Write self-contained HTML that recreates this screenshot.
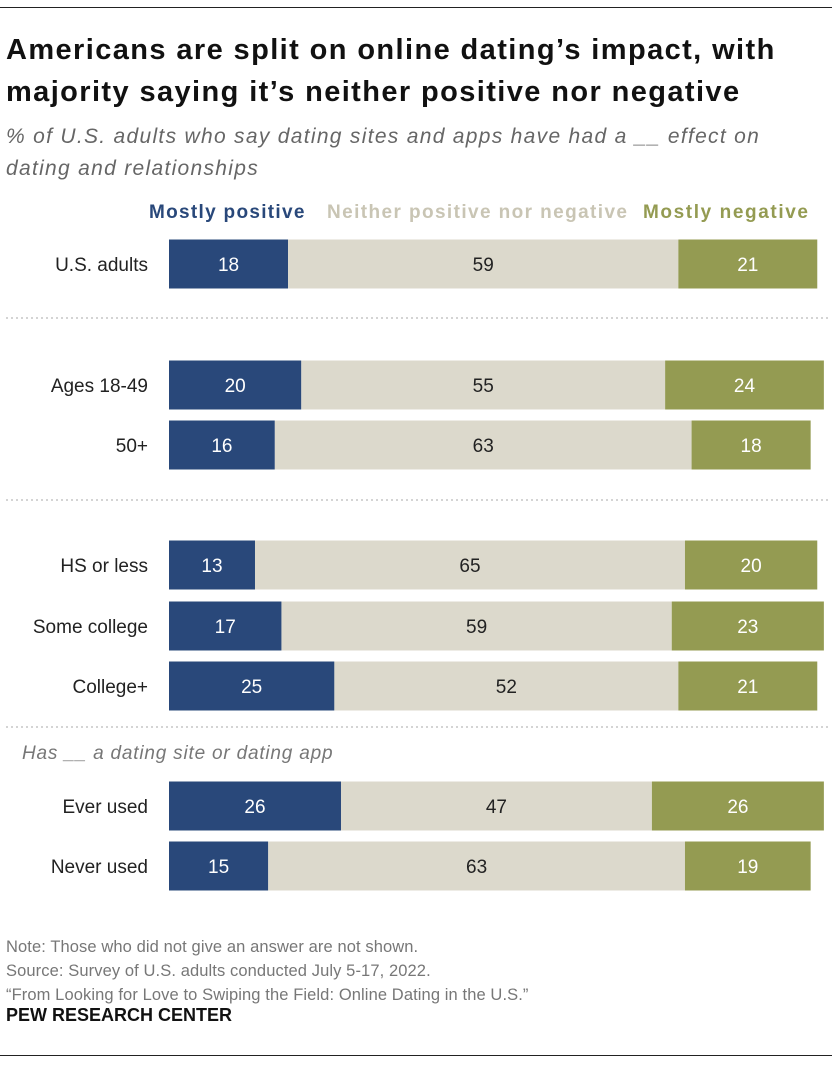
<!DOCTYPE html>
<html><head><meta charset="utf-8"><style>
body{margin:0;background:#fff;font-family:"Liberation Sans",sans-serif;}
#c{position:relative;width:840px;height:1066px;overflow:hidden;}
.t{position:absolute;white-space:nowrap;}
</style></head><body><div id="c">
<div class="t" style="left:0;top:7px;width:832px;height:1px;background:#222"></div>
<div class="t" style="left:6px;top:29px;font-size:29px;letter-spacing:1.4px;font-weight:bold;line-height:42px;color:#111">Americans are split on online dating’s impact, with<br>majority saying it’s neither positive nor negative</div>
<div class="t" style="left:6px;top:121px;font-size:21px;letter-spacing:1.3px;font-style:italic;line-height:32px;color:#666">% of U.S. adults who say dating sites and apps have had a __ effect on<br>dating and relationships</div>
<div class="t" style="left:149px;top:202px;font-size:19px;letter-spacing:1.3px;font-weight:bold;color:#29487a">Mostly positive</div>
<div class="t" style="left:327px;top:202px;font-size:19px;letter-spacing:1.4px;font-weight:bold;color:#c9c5b4">Neither positive nor negative</div>
<div class="t" style="left:643px;top:202px;font-size:19px;letter-spacing:1.6px;font-weight:bold;color:#949b52">Mostly negative</div>
<div class="t" style="left:22px;top:743px;font-size:19px;letter-spacing:0.8px;font-style:italic;color:#777">Has __ a dating site or dating app</div>
<svg id="s" width="840" height="1066" style="position:absolute;left:0;top:0"></svg>
<div class="t" style="left:6px;top:935px;font-size:16.5px;letter-spacing:0.1px;line-height:24px;color:#777">Note: Those who did not give an answer are not shown.<br>Source: Survey of U.S. adults conducted July 5-17, 2022.<br>“From Looking for Love to Swiping the Field: Online Dating in the U.S.”</div>
<div class="t" style="left:6px;top:1005px;font-size:18px;font-weight:bold;color:#111">PEW RESEARCH CENTER</div>
<div class="t" style="left:0;top:1055px;width:832px;height:1px;background:#222"></div>
</div>
<script>
const categories=["U.S. adults","Ages 18-49","50+","HS or less","Some college","College+","Ever used","Never used"];
const positive=[18,20,16,13,17,25,26,15];
const neither=[59,55,63,65,59,52,47,63];
const negative=[21,24,18,20,23,21,26,19];
const rowY=[264,385,445,565,626,686,806,866];
const sepY=[318,500,727];
const x0=169,k=6.615,bh=49;
const sx=v=>v*k;
const ns="http://www.w3.org/2000/svg";
const s=document.getElementById('s');
function mk(t,a){const e=document.createElementNS(ns,t);for(const n in a)e.setAttribute(n,a[n]);s.appendChild(e);return e;}
sepY.forEach(y=>{const l=mk('line',{x1:6,x2:828,y1:y,y2:y,stroke:'#aaa','stroke-dasharray':'2,3'});

});
const cols=['#29487a','#dcd9cc','#949b52'],tc=['#fff','#222','#fff'],nm=['positive','neither','negative'];
categories.forEach((c,i)=>{
 const y=rowY[i];
 const lab=mk('text',{x:148,y:y+7,'text-anchor':'end','font-size':19,fill:'#222'});lab.textContent=c;
 
 
 let x=x0;
 [positive[i],neither[i],negative[i]].forEach((v,j)=>{
  const w=sx(v);
  const r=mk('rect',{x:x,y:y-bh/2,width:w,height:bh,fill:cols[j]});
  
  
  const t=mk('text',{x:x+w/2,y:y+7,'text-anchor':'middle','font-size':19,fill:tc[j]});t.textContent=v;
  
  
  x+=w;
 });
});
</script></body></html>
